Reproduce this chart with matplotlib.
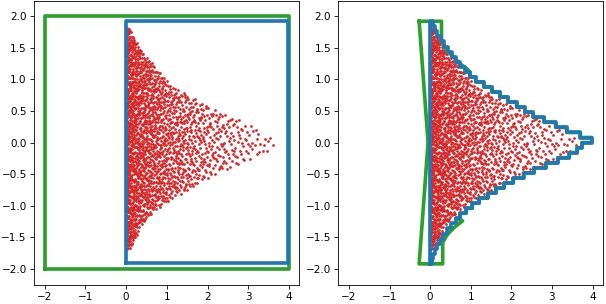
import numpy as np
import matplotlib
matplotlib.use("Agg")
import matplotlib.pyplot as plt

# ---------------- data ----------------
# outline of the point cloud (x positions and the top / bottom y there)
cloud_x = [0.0, 0.11, 0.36, 0.68, 1.09, 1.50, 1.85, 2.07, 2.50, 3.05, 3.28, 3.70, 3.90]
cloud_top = [1.85, 1.78, 1.46, 1.23, 0.91, 0.76, 0.64, 0.55, 0.45, 0.28, 0.20, 0.05, 0.0]
cloud_bot = [-1.72, -1.68, -1.32, -1.08, -0.90, -0.76, -0.60, -0.55, -0.43, -0.26, -0.21, -0.06, 0.0]
# how crowded the cloud looks along x (points per unit area)
dens_x = [0.0, 0.3, 1.0, 2.0, 3.0, 3.9]
dens_val = [1300, 850, 550, 300, 170, 110]
n_points = 1900

# domain box (green) and occupied box (blue), left panel
domain_box = [-2.0, -2.0, 4.0, 2.0]
occupied_box = [0.0, -1.91, 3.98, 1.92]

# staircase outline, right panel: right edge of each occupied row (bottom to top)
row_edges = np.linspace(-1.92, 1.92, 49)
row_right = [0.05, 0.07, 0.11, 0.17, 0.24, 0.32, 0.42, 0.52, 0.63, 0.73,
             0.89, 1.04, 1.21, 1.42, 1.62, 1.82, 2.05, 2.30, 2.56, 2.85,
             3.14, 3.43, 3.62, 3.74, 3.98, 3.70, 3.36, 3.09, 2.81, 2.54,
             2.33, 2.13, 1.92, 1.72, 1.52, 1.32, 1.12, 0.98, 0.86, 0.74,
             0.64, 0.54, 0.44, 0.34, 0.26, 0.18, 0.12, 0.06]

# green outline, right panel (top cap, bottom cap, left wedge)
green_top_x = [0.28, 0.28, 0.40, 0.57, 0.73, 0.94]
green_top_y = [1.92, 1.60, 1.46, 1.36, 1.25, 1.15]
green_bot_x = [0.80, 0.60, 0.43, 0.31, 0.31]
green_bot_y = [-1.24, -1.34, -1.45, -1.58, -1.92]
green_left_x = [-0.27, -0.05, -0.27]
green_left_y = [-1.92, 0.0, 1.92]

RED, BLUE, GREEN = "#d62728", "#1f77b4", "#2ca02c"
LW = 3.5


def halton(n, base):
    # deterministic low-discrepancy sequence used to lay out the cloud
    out = np.zeros(n)
    for i in range(n):
        f, r, k = 1.0, 0.0, i + 1
        while k > 0:
            f /= base
            r += f * (k % base)
            k //= base
        out[i] = r
    return out


# place the cloud inside the outline
grid = np.linspace(0, cloud_x[-1], 400)
width = np.interp(grid, cloud_x, cloud_top) - np.interp(grid, cloud_x, cloud_bot)
weight = width * np.interp(grid, dens_x, dens_val)
cdf = np.cumsum(weight)
cdf = (cdf - cdf[0]) / (cdf[-1] - cdf[0])
u = halton(n_points, 2)
v = halton(n_points, 3)
px = np.interp(u, cdf, grid)
lo = np.interp(px, cloud_x, cloud_bot)
hi = np.interp(px, cloud_x, cloud_top)
py = lo + v * (hi - lo)

# staircase vertices
stair_x = [0.0]
stair_y = [row_edges[0]]
for i, r in enumerate(row_right):
    stair_x += [r, r]
    stair_y += [row_edges[i], row_edges[i + 1]]
stair_x += [0.0, 0.0]
stair_y += [row_edges[-1], row_edges[0]]

# green outline follows the staircase in the middle
mid = [(x, y) for x, y in zip(stair_x[1:-2], stair_y[1:-2]) if -1.21 < y < 1.13]
green_x = [-0.27] + green_top_x + [p[0] for p in mid][::-1] + green_bot_x + green_left_x
green_y = [1.92] + green_top_y + [p[1] for p in mid][::-1] + green_bot_y + green_left_y

fig = plt.figure(figsize=(606 / 75, 304 / 75), dpi=75)
ax1 = fig.add_axes([0.0561, 0.0635, 0.4378, 0.933])
ax2 = fig.add_axes([0.5583, 0.0635, 0.4363, 0.933])

for ax in (ax1, ax2):
    ax.scatter(px, py, s=7, color=RED, linewidths=0, zorder=1)

# left: boxes
x0, y0, x1, y1 = domain_box
ax1.plot([x0, x1, x1, x0, x0], [y0, y0, y1, y1, y0], color=GREEN, lw=LW, zorder=2)
x0, y0, x1, y1 = occupied_box
ax1.plot([x0, x1, x1, x0, x0], [y0, y0, y1, y1, y0], color=BLUE, lw=LW, zorder=3)

# right: outlines
ax2.plot(green_x, green_y, color=GREEN, lw=LW, zorder=2)
ax2.plot(stair_x, stair_y, color=BLUE, lw=LW, zorder=3)

for ax in (ax1, ax2):
    ax.set_xlim(-2.26, 4.25)
    ax.set_ylim(-2.25, 2.24)
    ax.set_xticks([-2, -1, 0, 1, 2, 3, 4])
    ax.set_yticks([-2.0, -1.5, -1.0, -0.5, 0.0, 0.5, 1.0, 1.5, 2.0])

fig.savefig("out.png", dpi=75)
